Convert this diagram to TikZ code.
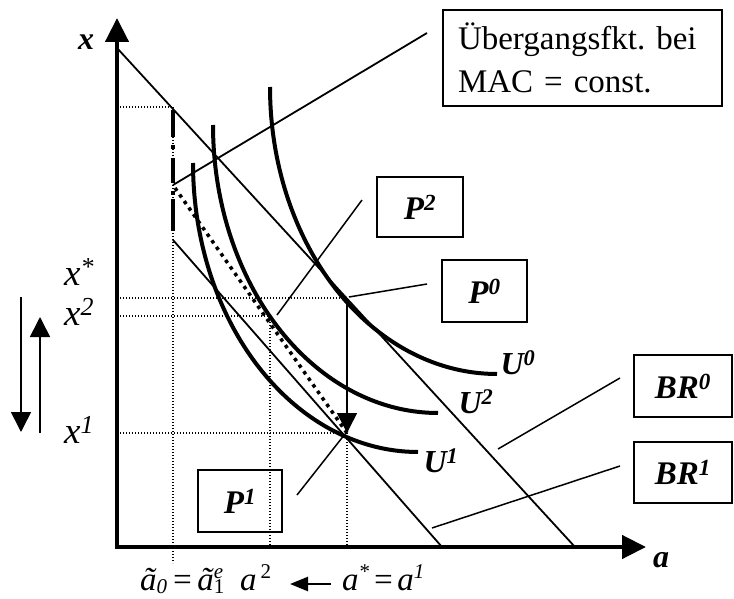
\documentclass[tikz,border=0pt]{standalone}
\usepackage{fontspec}
\setmainfont{Liberation Serif}
\usetikzlibrary{arrows.meta}
\newcommand{\lowsub}[1]{\raisebox{-3pt}{\fontsize{21}{21}\selectfont #1}}
\newcommand{\highsup}[1]{\raisebox{12pt}{\fontsize{21}{21}\selectfont #1}}
\begin{document}
\frenchspacing
\begin{tikzpicture}[x=1pt,y=-1pt,
  axis/.style={line width=4.5pt, line join=miter, {Triangle[length=24pt,width=23pt]}-{Triangle[length=24pt,width=23pt]}},
  budget/.style={line width=1.8pt},
  pointer/.style={line width=1.5pt},
  curve/.style={line width=4pt},
  grid/.style={line width=1.3pt, dash pattern=on 1.3pt off 1.7pt},
  bigdots/.style={line width=3.5pt, dash pattern=on 3.5pt off 4.5pt},
  thinarrow/.style={line width=1.6pt, -{Triangle[length=20pt,width=20pt]}},
  lbox/.style={draw, line width=1.5pt, inner sep=0pt, font=\fontsize{33}{38}\selectfont\bfseries\itshape},
  lab/.style={inner sep=0pt, font=\fontsize{32}{38}\selectfont\bfseries\itshape},
  ylab/.style={inner sep=0pt, anchor=base west, font=\fontsize{37}{40}\selectfont\itshape},
  alab/.style={inner sep=0pt, anchor=base west, font=\fontsize{33}{38}\selectfont\itshape}]
\useasboundingbox (0,0) rectangle (734,599);

% coordinates
\coordinate (O) at (117,547);
\coordinate (ytip) at (117,18);
\coordinate (xtip) at (646,547);
\coordinate (br0a) at (117,48);
\coordinate (br0b) at (575,547);
\coordinate (br1a) at (173,240);
\coordinate (br1b) at (442,547);
\coordinate (tr0) at (173,185);
\coordinate (tr1) at (427,33);
\coordinate (P0) at (347,298);
\coordinate (P1) at (347,433);
\coordinate (P2) at (270,316);

% dotted guide lines
\draw[grid] (117,107) -- (173,107);
\draw[grid] (173,107) -- (173,563);
\draw[grid] (117,298) -- (P0);
\draw[grid] (117,316) -- (P2);
\draw[grid] (117,433) -- (P1);
\draw[grid] (P2) -- (270,547);
\draw[grid] (P1) -- (347,547);

% thick dash-dotted vertical at a0
\draw[line width=4pt, dash pattern=on 27pt off 8pt on 4pt off 9pt on 25pt off 8pt on 4pt off 4pt on 32pt] (173,110) -- (173,232);

% budget lines
\draw[budget] (br0a) -- (br0b);
\draw[budget] (br1a) -- (br1b);
% transition function
\draw[budget] (tr0) -- (tr1);
% dotted path
\draw[bigdots] (175,188) -- (P1);

% indifference curves (quarter ellipses)
\draw[curve] plot[domain=180:90, samples=60, smooth] ({497+227*cos(\x)}, {87+287*sin(\x)});
\draw[curve] plot[domain=180:90, samples=60, smooth] ({438+225*cos(\x)}, {125+288*sin(\x)});
\draw[curve] plot[domain=180:90, samples=60, smooth] ({418+225*cos(\x)}, {163+289*sin(\x)});

% arrow P0 -> P1
\draw[thinarrow] (P0) -- (P1);

% axes
\draw[axis] (ytip) -- (O) -- (xtip);
\node[lab] (xl) at (86,42) {x};
\node[lab] (al) at (661,560) {a};

% y labels
\node[ylab] (xs) at (64,285) {x\textsuperscript{*}};
\node[ylab] (x2) at (64,325) {x\textsuperscript{2}};
\node[ylab] (x1) at (64,443) {x\textsuperscript{1}};

% left arrows
\coordinate (dA) at (21,297);
\coordinate (dB) at (21,432);
\coordinate (uA) at (40,433);
\coordinate (uB) at (40,317);
\draw[thinarrow] (dA) -- (dB);
\draw[thinarrow] (uA) -- (uB);

% curve labels
\node[lab] (U0) at (518,363) {U\textsuperscript{0}};
\node[lab] (U2) at (476,402) {U\textsuperscript{2}};
\node[lab] (U1) at (441,461) {U\textsuperscript{1}};

% boxes
\node[lbox, minimum width=279, minimum height=96, inner xsep=15pt, text width=249pt, align=left,
      font=\fontsize{33}{43}\selectfont] (bT) at (582.5,58) {Übergangsfkt. bei\\MAC = const.};
\node[lbox, minimum width=86, minimum height=60] (bP2) at (420,207) {P\textsuperscript{2}};
\node[lbox, minimum width=85, minimum height=62] (bP0) at (484.5,291) {P\textsuperscript{0}};
\node[lbox, minimum width=84, minimum height=62] (bP1) at (240,501) {P\textsuperscript{1}};
\node[lbox, minimum width=98, minimum height=62] (bBR0) at (683,386) {BR\textsuperscript{0}};
\node[lbox, minimum width=98, minimum height=61] (bBR1) at (683,472.5) {BR\textsuperscript{1}};

% pointers
\coordinate (p2a) at (362,200);
\coordinate (p2b) at (277,315);
\coordinate (p0a) at (427,284);
\coordinate (p0b) at (349,297);
\coordinate (p1a) at (297,495);
\coordinate (p1b) at (345,434);
\coordinate (b0a) at (620,378);
\coordinate (b0b) at (498,449);
\coordinate (b1a) at (620,466);
\coordinate (b1b) at (432,528);
\draw[pointer] (p2a) -- (p2b);
\draw[pointer] (p0a) -- (p0b);
\draw[pointer] (p1a) -- (p1b);
\draw[pointer] (b0a) -- (b0b);
\draw[pointer] (b1a) -- (b1b);

% bottom labels
\node[alab] (eqA) at (140,590) {ã\lowsub{0}\kern4pt=\kern4pt ã\rlap{\lowsub{\upshape 1}}\highsup{e}};
\node[alab] (eqB) at (240,590) {a\kern4pt\highsup{\upshape 2}};
\node[alab] (eqC) at (342,590) {a\highsup{*}\kern3pt=\kern3pt a\highsup{1}};
\coordinate (arS) at (331,584);
\coordinate (arE) at (290,584);
\draw[line width=2.5pt, -{Triangle[length=18pt,width=14pt]}] (arS) -- (arE);
\end{tikzpicture}
\end{document}
